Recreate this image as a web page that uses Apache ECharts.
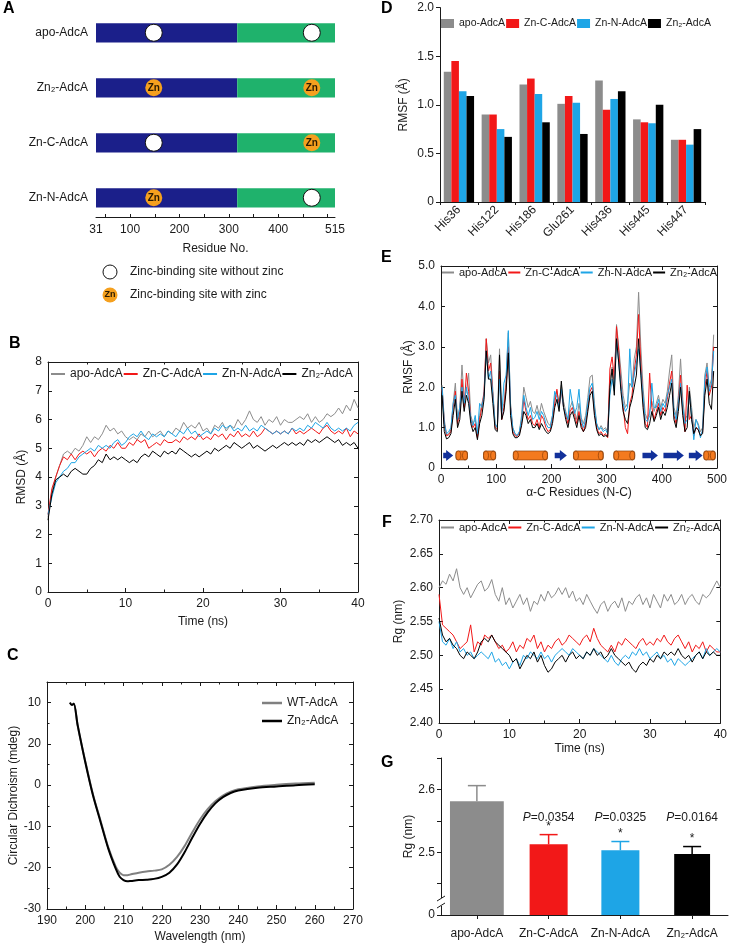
<!DOCTYPE html>
<html><head><meta charset="utf-8">
<script src="https://cdn.jsdelivr.net/npm/echarts@6.0.0/dist/echarts.min.js"></script>
<style>html,body{margin:0;padding:0;background:#fff}#c{width:730px;height:944px}</style>
</head><body><div id="c"></div>
<script>
// ---------------- DATA ----------------
// Panel A
const rowNames = ['apo-AdcA', 'Zn₂-AdcA', 'Zn-C-AdcA', 'Zn-N-AdcA'];
const nDomain = [31, 317];
const cDomain = [317, 515];
const siteResidues = [148, 468];
const siteHasZinc = [[0, 0], [1, 1], [0, 1], [1, 0]];
const residueLabels = [31, 100, 200, 300, 400, 515];
const residueTicks = [50, 100, 150, 200, 250, 300, 350, 400, 450, 500];

// Series names shared by B, D, E, F
const seriesNames = ['apo-AdcA', 'Zn-C-AdcA', 'Zn-N-AdcA', 'Zn₂-AdcA'];

// Panel D
const dResidues = ['His36', 'His122', 'His186', 'Glu261', 'His436', 'His445', 'His447'];
const dApo = [1.34, 0.90, 1.21, 1.01, 1.25, 0.85, 0.64];
const dZnC = [1.45, 0.90, 1.27, 1.09, 0.95, 0.82, 0.64];
const dZnN = [1.14, 0.75, 1.11, 1.02, 1.06, 0.81, 0.59];
const dZn2 = [1.09, 0.67, 0.82, 0.70, 1.14, 1.00, 0.75];

// Panel B (RMSD, sampled every 0.5 ns)
const rmsdStep = 0.5;
const rmsdApo = [2.6,3.5,4.0,4.4,4.8,4.9,4.8,5.0,4.9,5.1,
 5.4,5.2,5.4,5.3,5.5,5.8,5.6,5.7,5.5,5.6,
 5.4,5.3,5.4,5.3,5.5,5.4,5.6,5.4,5.5,5.6,
 5.4,5.6,5.5,5.7,5.6,5.9,5.7,5.8,5.7,5.9,
 5.6,5.7,5.5,5.8,5.7,5.9,5.6,5.8,5.7,6.0,
 5.8,6.0,6.3,6.0,5.9,6.1,5.8,6.0,5.9,6.1,
 5.8,6.0,5.9,5.9,6.0,6.1,6.0,6.2,5.9,6.1,
 5.9,6.0,6.2,6.1,6.2,6.4,6.2,6.5,6.3,6.7,
 6.4];
const rmsdZnC = [2.7,3.6,4.0,4.4,4.7,4.6,4.8,4.6,4.8,4.9,
 4.8,4.9,4.7,4.9,5.0,4.9,5.1,5.0,5.2,5.0,
 5.0,5.2,5.1,5.3,5.2,5.3,5.0,5.1,5.2,5.1,
 5.3,5.2,5.2,5.3,5.2,5.4,5.3,5.4,5.3,5.5,
 5.3,5.4,5.3,5.5,5.4,5.5,5.3,5.5,5.4,5.6,
 5.4,5.5,5.4,5.6,5.4,5.5,5.7,5.6,5.5,5.6,
 5.5,5.6,5.5,5.7,5.5,5.6,5.5,5.6,5.7,5.6,
 5.5,5.7,5.8,5.6,5.5,5.6,5.5,5.7,5.4,5.6,
 5.5];
const rmsdZnN = [2.7,3.3,3.8,4.0,4.2,4.3,4.5,4.5,4.7,4.8,
 4.9,5.0,4.9,5.1,5.0,5.1,5.0,5.2,5.3,5.1,
 5.2,5.4,5.5,5.4,5.6,5.4,5.3,5.5,5.4,5.5,
 5.4,5.6,5.5,5.4,5.6,5.5,5.7,5.5,5.6,5.4,
 5.5,5.6,5.5,5.7,5.6,5.8,5.7,5.8,5.6,5.7,
 5.6,5.8,5.6,5.7,5.6,5.8,5.7,5.6,5.5,5.6,
 5.5,5.6,5.5,5.7,5.6,5.7,5.6,5.8,5.7,5.9,
 5.8,5.7,5.9,5.7,5.6,5.7,5.6,5.7,5.6,5.8,
 5.9];
const rmsdZn2 = [2.5,3.4,3.9,4.0,4.1,4.0,4.2,4.3,4.2,4.1,
 4.1,4.3,4.4,4.6,4.5,4.8,4.6,4.7,4.6,4.7,
 4.6,4.5,4.6,4.5,4.7,4.8,4.7,4.9,4.8,4.7,
 4.9,4.8,4.9,4.8,5.0,4.9,4.8,4.7,4.8,4.7,
 4.8,4.9,4.8,5.0,4.9,5.0,5.1,5.0,5.2,5.1,
 5.0,5.1,5.2,5.0,5.1,5.0,4.9,5.0,5.1,5.0,
 5.1,5.2,5.1,5.2,5.1,5.2,5.1,5.3,5.2,5.3,
 5.2,5.3,5.4,5.3,5.2,5.3,5.1,5.2,5.1,5.2,
 5.0];

// Panel C (circular dichroism)
const cdNames = ['WT-AdcA', 'Zn₂-AdcA'];
const cdWave = [196,196.5,197,198,200,202,204,206,208,209,210,211,212,214,216,218,220,222,224,226,228,230,232,234,236,238,240,245,250,255,260];
const cdWT  = [20.0,19.5,19.8,14.5,5.8,-2.2,-8.6,-15.0,-19.8,-21.2,-21.8,-21.8,-21.6,-21.2,-20.9,-20.7,-20.4,-19.3,-17.4,-14.7,-11.4,-8.3,-5.8,-3.9,-2.5,-1.6,-1.0,-0.3,0.1,0.4,0.6];
const cdZn2 = [20.0,19.4,19.7,14.6,5.6,-2.4,-8.9,-15.3,-20.3,-22.2,-23.0,-23.3,-23.2,-23.0,-22.9,-22.7,-22.2,-21.2,-19.2,-16.2,-12.7,-9.4,-6.6,-4.4,-2.9,-1.9,-1.3,-0.6,-0.3,0.0,0.2];
const cdYLabels = {'-30':'-30','-20':'-20','-10':'-10','0':'0','10':'20','20':'10'};

// Panel E (RMSF per residue, every 4 residues from residue 2)
const rmsfStart = 2, rmsfStep = 4;
const rmsfApo = [2.05,1.2,0.82,0.85,0.95,1.6,2.1,1.2,1.5,2.55,
 1.7,1.9,2.35,1.3,1.1,1.2,0.8,1.3,1.6,1.8,
 3.2,2.6,2.8,1.9,1.1,1.0,2.95,1.4,1.6,2.2,
 3.35,1.6,1.0,0.85,0.8,0.9,1.3,2.0,1.75,1.5,
 1.65,1.4,1.35,1.55,1.3,1.6,1.4,1.25,1.1,1.05,
 1.3,1.75,1.9,1.6,2.05,1.65,1.4,1.2,1.5,1.65,
 1.4,1.2,1.6,1.25,1.1,1.3,1.75,2.25,2.3,1.6,
 1.1,0.95,1.05,0.95,1.0,0.9,2.2,2.5,2.1,3.55,
 3.0,2.4,1.8,1.5,1.6,2.1,2.0,2.7,3.0,4.35,
 3.0,2.0,1.35,1.2,1.4,1.65,1.4,1.6,1.8,1.5,
 1.7,1.6,1.9,2.4,2.8,1.5,1.3,1.8,2.7,1.7,
 1.2,1.3,2.0,1.5,1.0,1.2,1.1,0.9,1.0,2.3,
 2.6,2.0,2.2,3.3];
const rmsfZnC = [1.95,1.1,0.8,0.82,0.9,1.5,1.9,1.1,1.4,2.2,
 1.5,2.35,1.9,1.2,1.0,1.1,0.75,1.2,1.5,1.9,
 3.2,2.4,2.6,1.8,1.0,0.95,2.4,1.2,1.5,2.0,
 3.0,1.5,0.9,0.8,0.78,0.85,1.1,1.7,1.4,1.2,
 1.3,1.1,1.05,1.2,1.0,1.3,1.2,1.0,0.9,0.95,
 1.2,1.6,1.95,1.5,1.9,1.5,1.3,1.1,1.4,1.5,
 1.3,1.1,1.4,1.1,0.9,1.1,1.5,1.9,2.0,1.4,
 1.0,0.85,0.9,0.8,0.85,0.75,2.45,2.75,2.2,3.5,
 2.9,2.1,1.5,1.0,0.85,1.6,1.8,2.4,2.8,3.8,
 2.6,1.7,1.1,1.0,2.35,1.5,1.2,1.4,1.6,1.3,
 1.5,1.4,1.7,2.1,2.4,1.3,1.1,1.6,2.3,1.4,
 0.9,2.05,1.2,1.3,0.8,1.0,0.95,0.8,0.9,2.0,
 2.4,1.8,2.0,3.0];
const rmsfZnN = [2.0,1.1,0.85,0.9,1.0,1.6,1.8,1.2,1.5,2.0,
 1.6,2.0,1.7,1.2,1.05,1.3,0.85,1.6,1.5,1.8,
 2.9,2.2,2.4,1.8,1.1,1.0,2.2,1.3,2.1,2.3,
 3.4,1.5,1.0,0.85,0.8,0.9,1.2,1.8,1.5,1.3,
 1.5,1.2,1.25,1.4,1.2,1.4,1.3,1.1,1.0,1.0,
 1.3,1.9,1.75,1.5,1.95,1.5,1.35,1.2,1.95,1.6,
 1.35,1.5,1.95,1.2,1.0,1.2,1.6,2.0,2.1,1.5,
 1.1,0.95,1.0,0.9,0.95,0.85,1.8,2.2,1.9,3.2,
 2.6,2.0,1.6,1.4,1.5,2.95,2.0,2.3,2.6,2.95,
 2.4,1.8,1.2,1.15,1.3,2.1,1.5,1.5,1.7,1.4,
 1.6,1.5,1.8,2.0,2.2,1.4,1.2,1.6,2.1,1.5,
 1.1,1.2,1.8,1.3,0.7,1.2,1.05,0.75,0.95,2.2,
 2.5,1.9,2.1,2.9];
const rmsfZn2 = [1.8,0.9,0.72,0.75,0.85,1.3,1.7,1.0,1.2,1.9,
 1.4,1.8,1.6,1.1,0.9,1.0,0.7,1.1,1.3,1.7,
 2.9,2.2,2.2,1.6,0.95,0.9,2.8,1.2,1.4,1.9,
 2.85,1.3,0.85,0.75,0.75,0.8,1.05,1.4,1.3,1.1,
 1.2,1.0,1.0,1.1,0.95,1.1,1.0,0.9,0.85,0.9,
 1.1,1.5,1.7,1.4,2.15,1.5,1.2,1.0,1.3,1.4,
 1.2,1.0,1.3,1.0,0.9,1.0,1.4,1.8,1.9,1.3,
 0.95,0.8,0.85,0.78,0.8,0.78,2.0,2.45,1.8,3.2,
 2.6,1.9,1.4,1.2,1.1,1.5,1.7,2.0,2.3,3.2,
 2.3,1.5,1.0,0.95,1.1,1.4,1.15,1.3,1.5,1.2,
 1.4,1.3,1.5,1.8,2.1,1.2,1.0,1.4,2.0,1.3,
 0.9,1.0,1.9,1.2,0.85,1.0,0.95,0.8,0.85,1.8,
 2.2,1.6,1.45,2.4];
const ssHelices = [[27,48],[77,99],[131,193],[240,294],[313,351],[476,497]];
const ssStrands = [[4,22],[206,228],[365,393],[403,440],[449,474]];

// Panel F (Rg, every 0.5 ns)
const rgStep = 0.5;
const rgApo = [2.600,2.610,2.605,2.620,2.610,2.628,2.600,2.590,2.600,2.585,
 2.595,2.605,2.610,2.595,2.600,2.612,2.590,2.580,2.600,2.575,
 2.585,2.570,2.580,2.590,2.575,2.585,2.565,2.580,2.575,2.590,
 2.580,2.595,2.585,2.590,2.600,2.590,2.600,2.585,2.595,2.580,
 2.585,2.575,2.590,2.580,2.570,2.562,2.575,2.580,2.565,2.575,
 2.580,2.570,2.585,2.565,2.580,2.575,2.585,2.590,2.575,2.585,
 2.570,2.590,2.580,2.570,2.590,2.580,2.590,2.575,2.580,2.590,
 2.575,2.585,2.590,2.580,2.575,2.590,2.585,2.590,2.600,2.610,
 2.600];
const rgZnC = [2.590,2.545,2.540,2.535,2.530,2.520,2.510,2.515,2.520,2.545,
 2.505,2.520,2.515,2.530,2.525,2.530,2.520,2.510,2.515,2.505,
 2.510,2.520,2.505,2.515,2.510,2.525,2.520,2.530,2.510,2.520,
 2.505,2.515,2.510,2.520,2.525,2.515,2.520,2.530,2.525,2.520,
 2.515,2.525,2.530,2.520,2.540,2.525,2.515,2.510,2.505,2.515,
 2.505,2.520,2.515,2.525,2.520,2.515,2.510,2.520,2.525,2.515,
 2.520,2.515,2.525,2.520,2.530,2.520,2.515,2.525,2.530,2.520,
 2.510,2.520,2.505,2.515,2.510,2.520,2.505,2.515,2.510,2.505,
 2.505];
const rgZnN = [2.550,2.520,2.515,2.525,2.510,2.520,2.505,2.510,2.500,2.505,
 2.495,2.500,2.505,2.500,2.495,2.505,2.490,2.495,2.485,2.490,
 2.480,2.490,2.495,2.485,2.500,2.495,2.505,2.500,2.495,2.505,
 2.495,2.500,2.490,2.500,2.505,2.510,2.505,2.500,2.510,2.505,
 2.500,2.495,2.505,2.500,2.510,2.505,2.500,2.495,2.490,2.500,
 2.490,2.485,2.495,2.500,2.495,2.505,2.500,2.510,2.500,2.505,
 2.495,2.500,2.505,2.495,2.500,2.490,2.495,2.485,2.495,2.490,
 2.485,2.490,2.495,2.500,2.505,2.495,2.510,2.500,2.505,2.510,
 2.505];
const rgZn2 = [2.555,2.530,2.520,2.525,2.515,2.510,2.500,2.495,2.505,2.500,
 2.495,2.505,2.520,2.525,2.520,2.530,2.520,2.515,2.510,2.505,
 2.500,2.490,2.495,2.480,2.490,2.500,2.495,2.505,2.490,2.500,
 2.485,2.475,2.480,2.490,2.495,2.500,2.490,2.500,2.505,2.495,
 2.500,2.495,2.505,2.500,2.510,2.500,2.505,2.495,2.500,2.510,
 2.500,2.495,2.490,2.485,2.490,2.480,2.475,2.485,2.490,2.485,
 2.495,2.490,2.500,2.495,2.505,2.500,2.505,2.500,2.510,2.500,
 2.495,2.500,2.490,2.500,2.505,2.495,2.505,2.500,2.505,2.500,
 2.500];

// Panel G
const rgGroups = ['apo-AdcA', 'Zn-C-AdcA', 'Zn-N-AdcA', 'Zn₂-AdcA'];
const rgMean = [2.581, 2.5125, 2.503, 2.497];
const rgSD = [0.025, 0.0155, 0.014, 0.012];
const rgPValues = ['', '0.0354', '0.0325', '0.0164'];

// ---------------- STYLE ----------------
const FONT = '"Liberation Sans", Arial, Helvetica, sans-serif';
const INK = '#1a1a1a';
const COLORS = ['#8c8c8c', '#f21818', '#1ea5e6', '#000000'];
const DOM_BLUE = '#1b1f8a', DOM_GREEN = '#1fb26c', ZN_ORANGE = '#f5a01e';
const G_BAR_WIDTH_RATIO = [0.75, 0.53, 0.53, 0.50];
const G_AXIS_MIN = 2.4;

function merge(t, s) {
  for (const k in s) {
    const v = s[k];
    if (v && typeof v === 'object' && !Array.isArray(v) && t[k] && typeof t[k] === 'object' && !Array.isArray(t[k])) merge(t[k], v);
    else t[k] = v;
  }
  return t;
}
const AX = {
  axisLine: {show: true, onZero: false, lineStyle: {color: INK, width: 1}},
  axisTick: {show: true, inside: true, length: 4, lineStyle: {color: INK, width: 1}},
  minorTick: {show: false, length: 2.5, lineStyle: {color: INK, width: 1}},
  axisLabel: {show: true, fontFamily: FONT, fontSize: 12, color: INK, margin: 6},
  splitLine: {show: false}, minorSplitLine: {show: false},
  nameLocation: 'middle',
  nameTextStyle: {fontFamily: FONT, fontSize: 12, color: INK}
};
function axis(o) { return merge(JSON.parse(JSON.stringify(AX)), o); }
function mirror(o) { return axis(merge({axisLabel: {show: false}}, o)); }

const series = [];
// ---- A ----
const domainData = [];
rowNames.forEach((n, i) => {
  domainData.push({value: [3 - i, nDomain[0], nDomain[1]], itemStyle: {color: DOM_BLUE}});
  domainData.push({value: [3 - i, cDomain[0], cDomain[1]], itemStyle: {color: DOM_GREEN}});
});
series.push({
  type: 'custom', xAxisIndex: 0, yAxisIndex: 0, encode: {x: [1, 2], y: 0}, data: domainData, silent: true,
  renderItem: (params, api) => {
    const y = api.value(0);
    const a = api.coord([api.value(1), y]), b = api.coord([api.value(2), y]);
    const h = api.size([0, 0.35])[1];
    return {type: 'rect', shape: {x: a[0], y: a[1] - h / 2, width: b[0] - a[0], height: h}, style: {fill: api.visual('color')}};
  }
});
const siteData = [];
rowNames.forEach((n, i) => {
  siteResidues.forEach((r, k) => {
    const zn = siteHasZinc[i][k] === 1;
    siteData.push({
      value: [r, 3 - i],
      itemStyle: zn ? {color: ZN_ORANGE, borderColor: ZN_ORANGE, borderWidth: 0, opacity: 1} : {color: '#ffffff', borderColor: '#111', borderWidth: 1, opacity: 1},
      label: {show: zn}
    });
  });
});
series.push({
  type: 'scatter', xAxisIndex: 0, yAxisIndex: 0, symbol: 'circle', symbolSize: 17, z: 5, data: siteData, silent: true,
  itemStyle: {opacity: 1},
  label: {position: 'inside', formatter: 'Zn', fontFamily: FONT, fontSize: 10, fontWeight: 'bold', color: '#2b1a00'}
});
// ---- D ----
[dApo, dZnC, dZnN, dZn2].forEach((arr, k) => series.push({
  type: 'bar', name: seriesNames[k], xAxisIndex: 1, yAxisIndex: 1, data: arr,
  itemStyle: {color: COLORS[k]}, barGap: '0%', barCategoryGap: '20%'
}));
// ---- B ----
[rmsdApo, rmsdZnC, rmsdZnN, rmsdZn2].forEach((arr, k) => series.push({
  type: 'line', name: seriesNames[k], xAxisIndex: 2, yAxisIndex: 2, symbol: 'none', showSymbol: false,
  data: arr.map((v, i) => [i * rmsdStep, v]), lineStyle: {color: COLORS[k], width: 1}, itemStyle: {color: COLORS[k]}
}));
// ---- C ----
[cdWT, cdZn2].forEach((arr, k) => series.push({
  type: 'line', name: cdNames[k], xAxisIndex: 4, yAxisIndex: 4, symbol: 'none', showSymbol: false, smooth: 0.3,
  data: arr.map((v, i) => [cdWave[i], v]),
  lineStyle: {color: k === 0 ? '#808080' : '#000', width: 2}, itemStyle: {color: k === 0 ? '#808080' : '#000'}
}));
// ---- E ----
[rmsfApo, rmsfZnC, rmsfZnN, rmsfZn2].forEach((arr, k) => series.push({
  type: 'line', name: seriesNames[k], xAxisIndex: 6, yAxisIndex: 6, symbol: 'none', showSymbol: false,
  data: arr.map((v, i) => [rmsfStart + i * rmsfStep, v]), lineStyle: {color: COLORS[k], width: 1}, itemStyle: {color: COLORS[k]}
}));
const SS_LEVEL = 0.31;
series.push({
  type: 'custom', xAxisIndex: 6, yAxisIndex: 6, encode: {x: [0, 1]}, data: ssHelices, silent: true, z: 6,
  renderItem: (params, api) => {
    const a = api.coord([api.value(0), SS_LEVEL]), b = api.coord([api.value(1), SS_LEVEL]);
    const h = 9, rx = 2.5;
    return {type: 'group', children: [
      {type: 'rect', shape: {x: a[0], y: a[1] - h / 2, width: b[0] - a[0], height: h, r: 2}, style: {fill: '#f47a1f', stroke: '#7a3300', lineWidth: 0.6}},
      {type: 'ellipse', shape: {cx: a[0] + rx, cy: a[1], rx: rx, ry: h / 2}, style: {fill: '#f47a1f', stroke: '#7a3300', lineWidth: 0.6}},
      {type: 'ellipse', shape: {cx: b[0] - rx, cy: b[1], rx: rx, ry: h / 2}, style: {fill: 'none', stroke: '#7a3300', lineWidth: 0.6}}
    ]};
  }
});
series.push({
  type: 'custom', xAxisIndex: 6, yAxisIndex: 6, encode: {x: [0, 1]}, data: ssStrands, silent: true, z: 6,
  renderItem: (params, api) => {
    const a = api.coord([api.value(0), SS_LEVEL]), b = api.coord([api.value(1), SS_LEVEL]);
    const y = a[1], hw = 2.8, hh = 5.5, head = 7;
    return {type: 'polygon', shape: {points: [[a[0], y - hw], [b[0] - head, y - hw], [b[0] - head, y - hh], [b[0], y], [b[0] - head, y + hh], [b[0] - head, y + hw], [a[0], y + hw]]},
      style: {fill: '#12309a'}};
  }
});
// ---- F ----
[rgApo, rgZnC, rgZnN, rgZn2].forEach((arr, k) => series.push({
  type: 'line', name: seriesNames[k], xAxisIndex: 8, yAxisIndex: 8, symbol: 'none', showSymbol: false,
  data: arr.map((v, i) => [i * rgStep, v]), lineStyle: {color: COLORS[k], width: 1}, itemStyle: {color: COLORS[k]}
}));
// ---- G ----
const P_LEVEL = 2.555;
series.push({
  type: 'custom', name: 'Rg mean', xAxisIndex: 10, yAxisIndex: 10, z: 4, silent: true,
  encode: {x: 0, y: 1},
  data: rgMean.map((v, i) => [i, v, rgSD[i]]),
  renderItem: (params, api) => {
    const i = api.value(0), m = api.value(1), e = api.value(2);
    const base = api.coord([i, G_AXIS_MIN]);
    const b = api.coord([i, m]), t = api.coord([i, m + e]);
    const w = api.size([1, 0])[0] * G_BAR_WIDTH_RATIO[i];
    const col = COLORS[i], cap = 9;
    const ch = [
      {type: 'rect', shape: {x: b[0] - w / 2, y: b[1], width: w, height: base[1] - b[1]}, style: {fill: col}},
      {type: 'line', shape: {x1: b[0], y1: b[1], x2: t[0], y2: t[1]}, style: {stroke: col, lineWidth: 1.5}},
      {type: 'line', shape: {x1: t[0] - cap, y1: t[1], x2: t[0] + cap, y2: t[1]}, style: {stroke: col, lineWidth: 1.5}}
    ];
    if (rgPValues[i]) {
      ch.push({type: 'text', style: {text: '*', x: t[0], y: t[1] - 2, align: 'center', verticalAlign: 'bottom', fill: INK, fontFamily: FONT, fontSize: 12}});
      const py = api.coord([i, P_LEVEL])[1];
      ch.push({type: 'text', style: {text: '{i|P}=' + rgPValues[i], x: t[0], y: py, align: 'center', verticalAlign: 'middle', fill: INK, fontFamily: FONT, fontSize: 12,
        rich: {i: {fontStyle: 'italic', fontFamily: FONT, fontSize: 12, fill: INK}}}});
    }
    return {type: 'group', children: ch};
  }
});

// ---------------- AXES ----------------
const xAxis = [
  axis({type: 'value', gridIndex: 0, min: 31, max: 515, axisTick: {inside: true, length: 3, customValues: residueTicks},
    axisLabel: {customValues: residueLabels, margin: 7}, name: 'Residue No.', nameGap: 26}),
  axis({type: 'category', gridIndex: 1, data: dResidues, axisTick: {inside: false, length: 3}, axisLabel: {rotate: 45, interval: 0, margin: 6}}),
  axis({type: 'value', gridIndex: 2, min: 0, max: 40, interval: 10, minorTick: {show: true, splitNumber: 2}, name: 'Time (ns)', nameGap: 24}),
  mirror({type: 'value', gridIndex: 2, position: 'top', min: 0, max: 40, interval: 10, minorTick: {show: true, splitNumber: 2}}),
  axis({type: 'value', gridIndex: 3, min: 190, max: 270, interval: 10, minorTick: {show: true, splitNumber: 2}, name: 'Wavelength (nm)', nameGap: 22}),
  mirror({type: 'value', gridIndex: 3, position: 'top', min: 190, max: 270, interval: 10, minorTick: {show: true, splitNumber: 2}}),
  axis({type: 'value', gridIndex: 4, min: 0, max: 500, interval: 100, minorTick: {show: true, splitNumber: 2}, name: 'α-C Residues (N-C)', nameGap: 19}),
  mirror({type: 'value', gridIndex: 4, position: 'top', min: 0, max: 500, interval: 100, minorTick: {show: true, splitNumber: 2}}),
  axis({type: 'value', gridIndex: 5, min: 0, max: 40, interval: 10, minorTick: {show: true, splitNumber: 2}, name: 'Time (ns)', nameGap: 20}),
  mirror({type: 'value', gridIndex: 5, position: 'top', min: 0, max: 40, interval: 10, minorTick: {show: true, splitNumber: 2}}),
  axis({type: 'category', gridIndex: 6, data: rgGroups, axisTick: {inside: false, length: 4, alignWithLabel: true}, axisLabel: {margin: 13, interval: 0}})
];
const yAxis = [
  axis({type: 'value', gridIndex: 0, min: -0.35, max: 3.35, axisLine: {show: false}, axisTick: {show: false},
    axisLabel: {customValues: [0, 1, 2, 3], margin: 8, formatter: v => rowNames[3 - Math.round(v)]}}),
  axis({type: 'value', gridIndex: 1, min: 0, max: 2, interval: 0.5, axisTick: {inside: false, length: 4},
    axisLabel: {formatter: v => v === 0 ? '0' : v.toFixed(1)}, name: 'RMSF (Å)', nameGap: 30}),
  axis({type: 'value', gridIndex: 2, min: 0, max: 8, interval: 1, name: 'RMSD (Å)', nameGap: 20}),
  mirror({type: 'value', gridIndex: 2, position: 'right', min: 0, max: 8, interval: 1}),
  axis({type: 'value', gridIndex: 3, min: -30, max: 25, interval: 10, minorTick: {show: true, splitNumber: 2},
    axisLabel: {formatter: v => (cdYLabels[String(Math.round(v))] !== undefined && Math.abs(v - Math.round(v)) < 1e-6) ? cdYLabels[String(Math.round(v))] : ''},
    name: 'Circular Dichroism (mdeg)', nameGap: 24}),
  mirror({type: 'value', gridIndex: 3, position: 'right', min: -30, max: 25, interval: 10, minorTick: {show: true, splitNumber: 2}}),
  axis({type: 'value', gridIndex: 4, min: 0, max: 5, interval: 1, axisLabel: {formatter: v => v === 0 ? '0' : v.toFixed(1)}, name: 'RMSF (Å)', nameGap: 25}),
  mirror({type: 'value', gridIndex: 4, position: 'right', min: 0, max: 5, interval: 1}),
  axis({type: 'value', gridIndex: 5, min: 2.4, max: 2.7, interval: 0.05, axisLabel: {formatter: v => v.toFixed(2)}, name: 'Rg (nm)', nameGap: 34}),
  mirror({type: 'value', gridIndex: 5, position: 'right', min: 2.4, max: 2.7, interval: 0.05}),
  axis({type: 'value', gridIndex: 6, min: G_AXIS_MIN, max: 2.65, interval: 0.05, axisTick: {inside: false, length: 4},
    axisLabel: {formatter: v => Math.abs(v - 2.4) < 1e-6 ? '0' : Math.abs(v - 2.5) < 1e-6 ? '2.5' : Math.abs(v - 2.6) < 1e-6 ? '2.6' : ''},
    name: 'Rg (nm)', nameGap: 26})
];

const grid = [
  {left: 96, top: 13.5, width: 239, height: 203.5},
  {left: 440, top: 7.6, width: 265, height: 194.4},
  {left: 48, top: 362, width: 310, height: 230},
  {left: 47, top: 682, width: 306, height: 227},
  {left: 441, top: 266, width: 276, height: 202},
  {left: 439, top: 520, width: 283, height: 203},
  {left: 441, top: 758, width: 287, height: 157}
];

function lineLegend(o, fontSize, itemWidth) {
  return merge({
    orient: 'horizontal', itemWidth: itemWidth, itemHeight: 2, itemGap: 1, padding: 0, width: 400, selectedMode: false,
    textStyle: {fontFamily: FONT, fontSize: fontSize, color: INK},
    data: seriesNames.map(n => ({name: n, icon: 'rect'}))
  }, o);
}
const legend = [
  {left: 441, top: 18, itemWidth: 13, itemHeight: 9, itemGap: 1, padding: 0, width: 400, selectedMode: false,
    textStyle: {fontFamily: FONT, fontSize: 10.5, color: INK}, data: seriesNames.map(n => ({name: n, icon: 'rect'}))},
  lineLegend({left: 51, top: 368}, 12, 14),
  {left: 262, top: 697, orient: 'vertical', itemWidth: 20, itemHeight: 2.5, itemGap: 6, padding: 0, selectedMode: false,
    textStyle: {fontFamily: FONT, fontSize: 12, color: INK}, data: cdNames.map(n => ({name: n, icon: 'rect'}))},
  lineLegend({left: 442, top: 267}, 11, 12),
  lineLegend({left: 441, top: 522}, 11, 13)
];

function letter(t, x, y) {
  return {type: 'text', left: x, top: y, style: {text: t, font: 'bold 16px ' + FONT, fill: '#000'}};
}
const graphic = [
  letter('A', 3, 1), letter('B', 9, 336), letter('C', 7, 648), letter('D', 381, 1),
  letter('E', 381, 250), letter('F', 382, 515), letter('G', 381, 755),
  {type: 'circle', shape: {cx: 110, cy: 272, r: 7}, style: {fill: '#fff', stroke: '#111', lineWidth: 1}},
  {type: 'text', style: {text: 'Zinc-binding site without zinc', x: 130, y: 272, verticalAlign: 'middle', font: '12px ' + FONT, fill: INK}},
  {type: 'circle', shape: {cx: 110, cy: 295, r: 7.5}, style: {fill: ZN_ORANGE}},
  {type: 'text', style: {text: 'Zn', x: 110, y: 295, align: 'center', verticalAlign: 'middle', font: 'bold 9px ' + FONT, fill: '#2b1a00'}, z: 10},
  {type: 'text', style: {text: 'Zinc-binding site with zinc', x: 130, y: 295, verticalAlign: 'middle', font: '12px ' + FONT, fill: INK}},
  // axis break on panel G
  {type: 'rect', shape: {x: 436, y: 898, width: 10, height: 8}, style: {fill: '#fff'}, z: 100},
  {type: 'line', shape: {x1: 437, y1: 901, x2: 445, y2: 896}, style: {stroke: INK, lineWidth: 1}, z: 101},
  {type: 'line', shape: {x1: 437, y1: 908, x2: 445, y2: 903}, style: {stroke: INK, lineWidth: 1}, z: 101}
];

const chart = echarts.init(document.getElementById('c'), null, {renderer: 'canvas'});
chart.setOption({
  animation: false, backgroundColor: '#fff',
  textStyle: {fontFamily: FONT},
  grid, xAxis, yAxis, legend, series, graphic
});
</script></body></html>
